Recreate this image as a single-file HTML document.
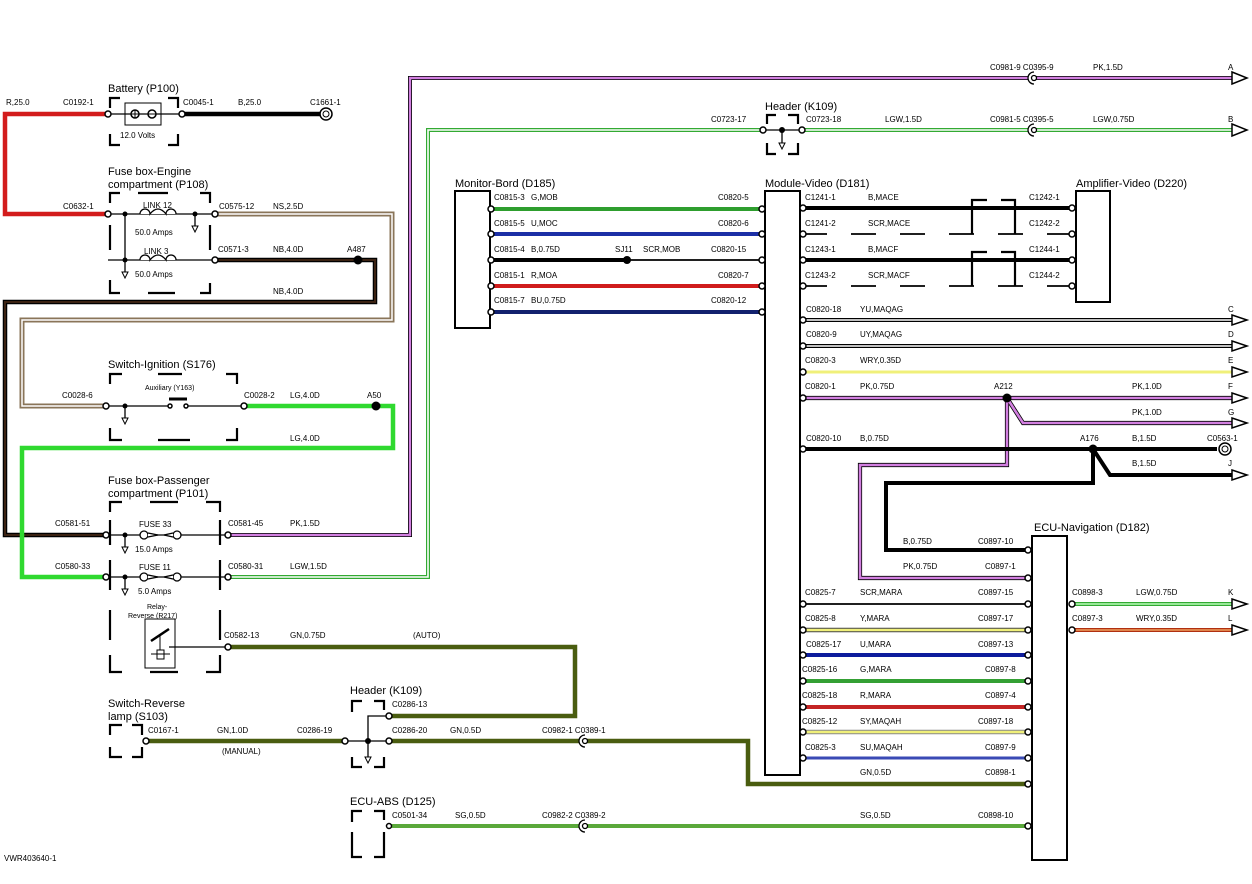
<!DOCTYPE html>
<html><head><meta charset="utf-8"><style>
html,body{margin:0;padding:0;background:#fff}
svg{display:block}
text{font-family:"Liberation Sans",sans-serif;font-size:8px;fill:#000}
.h{font-size:11px}
.br{fill:none;stroke:#000;stroke-width:2.2}
.c{fill:#fff;stroke:#000;stroke-width:1.5}
.ar{fill:#fff;stroke:#000;stroke-width:1.5}
</style></head><body>
<svg width="1252" height="884" viewBox="0 0 1252 884" xmlns="http://www.w3.org/2000/svg">
<polyline points="228,535 410,535 410,78 1235,78" fill="none" stroke="#000" stroke-width="4"/>
<polyline points="228,535 410,535 410,78 1235,78" fill="none" stroke="#d27fe0" stroke-width="2.4"/>
<polyline points="228,577 428,577 428,130 765,130" fill="none" stroke="#3a3" stroke-width="4"/>
<polyline points="228,577 428,577 428,130 765,130" fill="none" stroke="#fff" stroke-width="1.6"/>
<line x1="800" y1="130" x2="1235" y2="130" stroke="#3a3" stroke-width="4"/>
<line x1="800" y1="130" x2="1235" y2="130" stroke="#fff" stroke-width="1.6"/>
<polyline points="106,114 5,114 5,214 106,214" fill="none" stroke="#d31c1c" stroke-width="4.5"/>
<line x1="182" y1="114" x2="320" y2="114" stroke="#000" stroke-width="4.5"/>
<polyline points="215,214 392,214 392,320 22,320 22,406 106,406" fill="none" stroke="#8a7559" stroke-width="5"/>
<polyline points="215,214 392,214 392,320 22,320 22,406 106,406" fill="none" stroke="#fff" stroke-width="1.5"/>
<polyline points="215,260 375,260 375,302 5,302 5,535 106,535" fill="none" stroke="#000" stroke-width="4.5"/>
<polyline points="215,260 375,260 375,302 5,302 5,535 106,535" fill="none" stroke="#3b2212" stroke-width="2"/>
<polyline points="245,406 393,406 393,448 22,448 22,577 106,577" fill="none" stroke="#2fd92f" stroke-width="4.5"/>
<polyline points="228,647 575,647 575,716 390,716" fill="none" stroke="#4a5d10" stroke-width="4.5"/>
<line x1="148" y1="741" x2="344" y2="741" stroke="#4a5d10" stroke-width="4.5"/>
<polyline points="390,741 748,741 748,784 1030,784" fill="none" stroke="#4a5d10" stroke-width="4.5"/>
<line x1="390" y1="826" x2="1030" y2="826" stroke="#5aa83a" stroke-width="4"/>
<line x1="490" y1="209" x2="762" y2="209" stroke="#2e9e2e" stroke-width="4"/>
<line x1="490" y1="234" x2="762" y2="234" stroke="#1c2fa6" stroke-width="4"/>
<line x1="490" y1="260" x2="627" y2="260" stroke="#000" stroke-width="4"/>
<line x1="627" y1="260" x2="762" y2="260" stroke="#000" stroke-width="1.8"/>
<line x1="490" y1="286" x2="762" y2="286" stroke="#d01c1c" stroke-width="4"/>
<line x1="490" y1="312" x2="762" y2="312" stroke="#12216e" stroke-width="4"/>
<circle cx="627" cy="260" r="4" fill="#000"/>
<line x1="802" y1="208" x2="1072" y2="208" stroke="#000" stroke-width="4"/>
<line x1="802" y1="260" x2="1072" y2="260" stroke="#000" stroke-width="4"/>
<line x1="802" y1="234" x2="1072" y2="234" stroke="#000" stroke-width="1.8" stroke-dasharray="25,24"/>
<line x1="802" y1="286" x2="1072" y2="286" stroke="#000" stroke-width="1.8" stroke-dasharray="25,24"/>
<path d="M972,234 V200 H987 M1001,200 H1015 V234 M972,286 V252 H987 M1001,252 H1015 V286" class="br" stroke-width="1.8"/>
<line x1="802" y1="320" x2="1235" y2="320" stroke="#000" stroke-width="4"/>
<line x1="802" y1="320" x2="1235" y2="320" stroke="#fff" stroke-width="1.5"/>
<line x1="802" y1="346" x2="1235" y2="346" stroke="#000" stroke-width="4"/>
<line x1="802" y1="346" x2="1235" y2="346" stroke="#fff" stroke-width="1.5"/>
<line x1="802" y1="372" x2="1235" y2="372" stroke="#f0f07a" stroke-width="3"/>
<g fill="none" stroke="#000" stroke-width="4.2">
<polyline points="802,398 1235,398"/>
<polyline points="1007,398 1023,423 1235,423"/>
<polyline points="1007,398 1007,465 860,465 860,578 1030,578"/>
</g>
<g fill="none" stroke="#d27fe0" stroke-width="2.6">
<polyline points="802,398 1235,398"/>
<polyline points="1007,398 1023,423 1235,423"/>
<polyline points="1007,398 1007,465 860,465 860,578 1030,578"/>
</g>
<circle cx="1007" cy="398" r="4.5" fill="#000"/>
<g fill="none" stroke="#000" stroke-width="4">
<polyline points="802,449 1217,449"/>
<polyline points="1093,449 1110,475 1235,475"/>
<polyline points="1093,449 1093,483 886,483 886,550 1030,550"/>
</g>
<circle cx="1093" cy="449" r="4.5" fill="#000"/>
<line x1="802" y1="604" x2="1030" y2="604" stroke="#000" stroke-width="1.8"/>
<line x1="802" y1="630" x2="1030" y2="630" stroke="#444" stroke-width="4.5"/>
<line x1="802" y1="630" x2="1030" y2="630" stroke="#f0f07a" stroke-width="2.6"/>
<line x1="802" y1="655" x2="1030" y2="655" stroke="#0d1c9c" stroke-width="4"/>
<line x1="802" y1="681" x2="1030" y2="681" stroke="#34a034" stroke-width="4"/>
<line x1="802" y1="707" x2="1030" y2="707" stroke="#c42424" stroke-width="4"/>
<line x1="802" y1="732" x2="1030" y2="732" stroke="#888" stroke-width="4.5"/>
<line x1="802" y1="732" x2="1030" y2="732" stroke="#f0f07a" stroke-width="2.6"/>
<line x1="802" y1="758" x2="1030" y2="758" stroke="#3a4ab5" stroke-width="3"/>
<line x1="1072" y1="604" x2="1235" y2="604" stroke="#3a3" stroke-width="4"/>
<line x1="1072" y1="604" x2="1235" y2="604" stroke="#a8f0a8" stroke-width="1.8"/>
<line x1="1072" y1="630" x2="1235" y2="630" stroke="#b03010" stroke-width="4"/>
<line x1="1072" y1="630" x2="1235" y2="630" stroke="#f0a060" stroke-width="1.5"/>

<text class="h" x="108" y="92">Battery (P100)</text>
<path d="M110,108 V98 H120 M168,98 H178 V108 M110,134 V145 H120 M168,145 H178 V134" class="br"/>
<rect x="125" y="103" width="36" height="22" fill="#fff" stroke="#000"/>
<line x1="108" y1="114" x2="180" y2="114" stroke="#000" stroke-width="1.3"/>
<circle cx="135" cy="114" r="4" class="c"/><path d="M131,114h8M135,110v8" stroke="#000"/>
<circle cx="152" cy="114" r="4" class="c"/><path d="M148,114h8" stroke="#000"/>
<text x="120" y="138">12.0 Volts</text>
<text class="h" x="108" y="175">Fuse box-Engine</text>
<text class="h" x="108" y="188">compartment (P108)</text>
<path d="M110,203 V193 H120 M138,193 H168 M200,193 H210 V203 M110,225 V250 M110,280 V293 H120 M148,293 H175 M200,293 H210 V283 M210,225 V250" class="br"/>
<line x1="108" y1="214" x2="213" y2="214" stroke="#000" stroke-width="1.3"/>
<line x1="108" y1="260" x2="213" y2="260" stroke="#000" stroke-width="1.3"/>
<line x1="125" y1="214" x2="125" y2="272" stroke="#000" stroke-width="1.3"/>
<line x1="195" y1="214" x2="195" y2="226" stroke="#000" stroke-width="1.3"/>
<circle cx="125" cy="214" r="2.5"/><circle cx="195" cy="214" r="2.5"/><circle cx="125" cy="260" r="2.5"/>
<path d="M192,226 l3,6 3,-6z M122,272 l3,6 3,-6z" fill="#fff" stroke="#000"/>
<path d="M140,214 a5,5 0 1,1 10,0 q8,-10 16,0 a5,5 0 1,1 10,0" fill="#fff" stroke="#000" stroke-width="1.3"/>
<path d="M140,260 a5,5 0 1,1 10,0 q8,-10 16,0 a5,5 0 1,1 10,0" fill="#fff" stroke="#000" stroke-width="1.3"/>
<text x="143" y="208">LINK 12</text><text x="135" y="235">50.0 Amps</text>
<text x="144" y="254">LINK 3</text><text x="135" y="277">50.0 Amps</text>
<circle cx="358" cy="260" r="4.5" fill="#000"/>
<text class="h" x="108" y="368">Switch-Ignition (S176)</text>
<path d="M110,384 V374 H122 M158,374 H182 M226,374 H237 V384 M110,428 V440 H122 M158,440 H190 M226,440 H237 V428" class="br"/>
<line x1="108" y1="406" x2="170" y2="406" stroke="#000" stroke-width="1.3"/>
<line x1="187" y1="406" x2="243" y2="406" stroke="#000" stroke-width="1.3"/>
<line x1="125" y1="406" x2="125" y2="418" stroke="#000" stroke-width="1.3"/>
<circle cx="125" cy="406" r="2.5"/><path d="M122,418 l3,6 3,-6z" fill="#fff" stroke="#000"/>
<circle cx="170" cy="406" r="2" class="c" stroke-width="1"/><circle cx="186" cy="406" r="2" class="c" stroke-width="1"/>
<line x1="169" y1="399" x2="187" y2="399" stroke="#000" stroke-width="3"/>
<text x="145" y="390" style="font-size:7px">Auxiliary (Y163)</text>
<circle cx="376" cy="406" r="4.5" fill="#000"/>
<text class="h" x="108" y="484">Fuse box-Passenger</text>
<text class="h" x="108" y="497">compartment (P101)</text>
<path d="M110,512 V502 H122 M150,502 H178 M206,502 H220 V512 M110,520 V545 M220,520 V545 M110,560 V590 M220,560 V590 M110,610 V640 M220,610 V640 M110,655 V672 H122 M150,672 H178 M206,672 H220 V655" class="br"/>
<line x1="108" y1="535" x2="227" y2="535" stroke="#000" stroke-width="1.3"/>
<line x1="108" y1="577" x2="227" y2="577" stroke="#000" stroke-width="1.3"/>
<line x1="125" y1="535" x2="125" y2="547" stroke="#000" stroke-width="1.3"/>
<line x1="125" y1="577" x2="125" y2="589" stroke="#000" stroke-width="1.3"/>
<circle cx="125" cy="535" r="2.5"/><circle cx="125" cy="577" r="2.5"/>
<path d="M122,547 l3,6 3,-6z M122,589 l3,6 3,-6z" fill="#fff" stroke="#000"/>
<g fill="#fff" stroke="#000" stroke-width="1.3">
<circle cx="144" cy="535" r="4"/><circle cx="177" cy="535" r="4"/><path d="M148,533 L158,535 148,537 M173,533 L164,535 173,537"/>
<circle cx="144" cy="577" r="4"/><circle cx="177" cy="577" r="4"/><path d="M148,575 L158,577 148,579 M173,575 L164,577 173,579"/>
</g>
<text x="139" y="527">FUSE 33</text><text x="135" y="552">15.0 Amps</text>
<text x="139" y="570">FUSE 11</text><text x="138" y="594">5.0 Amps</text>
<text x="147" y="609" style="font-size:7px">Relay-</text><text x="128" y="618" style="font-size:7px">Reverse (R217)</text>
<rect x="145" y="619" width="30" height="49" fill="#fff" stroke="#000"/>
<line x1="151" y1="641" x2="169" y2="629" stroke="#000" stroke-width="2.5"/>
<line x1="160" y1="635" x2="160" y2="650" stroke="#000"/>
<rect x="157" y="650" width="7" height="9" fill="#fff" stroke="#000"/>
<line x1="169" y1="647" x2="227" y2="647" stroke="#000" stroke-width="1.3"/>
<line x1="151" y1="654" x2="170" y2="654" stroke="#000"/>
<text class="h" x="108" y="707">Switch-Reverse</text>
<text class="h" x="108" y="720">lamp (S103)</text>
<path d="M110,735 V725 H122 M132,725 H142 V735 M110,747 V757 H122 M132,757 H142 V747" class="br"/>
<text class="h" x="350" y="694">Header (K109)</text>
<path d="M352,712 V701 H362 M374,701 H384 V710 M352,757 V767 H362 M374,767 H384 V757" class="br"/>
<polyline points="386,716 368,716 368,757" fill="none" stroke="#000" stroke-width="1.3"/>
<line x1="346" y1="741" x2="388" y2="741" stroke="#000" stroke-width="1.3"/>
<circle cx="368" cy="741" r="3" fill="#000"/><path d="M365,757 l3,6 3,-6z" fill="#fff" stroke="#000"/>
<text class="h" x="350" y="805">ECU-ABS (D125)</text>
<path d="M352,822 V811 H362 M374,811 H384 V820 M352,832 V857 H362 M374,857 H384 V832" class="br"/>
<text class="h" x="765" y="110">Header (K109)</text>
<path d="M767,124 V115 H776 M788,115 H798 V124 M767,143 V154 H776 M788,154 H798 V143" class="br"/>
<line x1="763" y1="130" x2="802" y2="130" stroke="#000" stroke-width="1.3"/>
<line x1="782" y1="130" x2="782" y2="143" stroke="#000" stroke-width="1.3"/>
<circle cx="782" cy="130" r="3" fill="#000"/><path d="M779,143 l3,6 3,-6z" fill="#fff" stroke="#000"/>
<text class="h" x="455" y="187">Monitor-Bord (D185)</text>
<rect x="455" y="191" width="35" height="137" fill="#fff" stroke="#000" stroke-width="2"/>
<text class="h" x="765" y="187">Module-Video (D181)</text>
<rect x="765" y="191" width="35" height="584" fill="#fff" stroke="#000" stroke-width="2"/>
<text class="h" x="1076" y="187">Amplifier-Video (D220)</text>
<rect x="1076" y="191" width="34" height="111" fill="#fff" stroke="#000" stroke-width="2"/>
<text class="h" x="1034" y="531">ECU-Navigation (D182)</text>
<rect x="1032" y="536" width="35" height="324" fill="#fff" stroke="#000" stroke-width="2"/>

<g class="c">
<circle cx="108" cy="114" r="3" class="c"/><circle cx="182" cy="114" r="3" class="c"/>
<circle cx="108" cy="214" r="3" class="c"/><circle cx="215" cy="214" r="3" class="c"/><circle cx="215" cy="260" r="3" class="c"/>
<circle cx="106" cy="406" r="3" class="c"/><circle cx="244" cy="406" r="3" class="c"/>
<circle cx="106" cy="535" r="3" class="c"/><circle cx="228" cy="535" r="3" class="c"/>
<circle cx="106" cy="577" r="3" class="c"/><circle cx="228" cy="577" r="3" class="c"/>
<circle cx="228" cy="647" r="3" class="c"/>
<circle cx="146" cy="741" r="3" class="c"/><circle cx="345" cy="741" r="3" class="c"/><circle cx="389" cy="741" r="3" class="c"/><circle cx="389" cy="716" r="3" class="c"/><circle cx="389" cy="826" r="2.5" class="c"/>
<circle cx="763" cy="130" r="3" class="c"/><circle cx="802" cy="130" r="3" class="c"/>
<circle cx="491" cy="209" r="3" class="c"/><circle cx="491" cy="234" r="3" class="c"/><circle cx="491" cy="260" r="3" class="c"/><circle cx="491" cy="286" r="3" class="c"/><circle cx="491" cy="312" r="3" class="c"/>
<circle cx="762" cy="209" r="3" class="c"/><circle cx="762" cy="234" r="3" class="c"/><circle cx="762" cy="260" r="3" class="c"/><circle cx="762" cy="286" r="3" class="c"/><circle cx="762" cy="312" r="3" class="c"/>
<circle cx="803" cy="208" r="3" class="c"/><circle cx="803" cy="234" r="3" class="c"/><circle cx="803" cy="260" r="3" class="c"/><circle cx="803" cy="286" r="3" class="c"/>
<circle cx="1072" cy="208" r="3" class="c"/><circle cx="1072" cy="234" r="3" class="c"/><circle cx="1072" cy="260" r="3" class="c"/><circle cx="1072" cy="286" r="3" class="c"/>
<circle cx="803" cy="320" r="3" class="c"/><circle cx="803" cy="346" r="3" class="c"/><circle cx="803" cy="372" r="3" class="c"/><circle cx="803" cy="398" r="3" class="c"/><circle cx="803" cy="449" r="3" class="c"/>
<circle cx="803" cy="604" r="3" class="c"/><circle cx="803" cy="630" r="3" class="c"/><circle cx="803" cy="655" r="3" class="c"/><circle cx="803" cy="681" r="3" class="c"/><circle cx="803" cy="707" r="3" class="c"/><circle cx="803" cy="732" r="3" class="c"/><circle cx="803" cy="758" r="3" class="c"/>
<circle cx="1028" cy="550" r="3" class="c"/><circle cx="1028" cy="578" r="3" class="c"/><circle cx="1028" cy="604" r="3" class="c"/><circle cx="1028" cy="630" r="3" class="c"/><circle cx="1028" cy="655" r="3" class="c"/><circle cx="1028" cy="681" r="3" class="c"/><circle cx="1028" cy="707" r="3" class="c"/><circle cx="1028" cy="732" r="3" class="c"/><circle cx="1028" cy="758" r="3" class="c"/><circle cx="1028" cy="784" r="3" class="c"/><circle cx="1028" cy="826" r="3" class="c"/>
<circle cx="1072" cy="604" r="3" class="c"/><circle cx="1072" cy="630" r="3" class="c"/>
</g>
<circle cx="326" cy="114" r="6" class="c" stroke-width="2"/><circle cx="326" cy="114" r="3" fill="none" stroke="#000"/>
<circle cx="1225" cy="449" r="6" class="c" stroke-width="2"/><circle cx="1225" cy="449" r="3" fill="none" stroke="#000"/>
<g fill="#fff" stroke="#000" stroke-width="1.3">
<path d="M1034,72 a6,6 0 0,0 0,12"/><circle cx="1034" cy="78" r="2.5"/>
<path d="M1034,124 a6,6 0 0,0 0,12"/><circle cx="1034" cy="130" r="2.5"/>
<path d="M585,735 a6,6 0 0,0 0,12"/><circle cx="585" cy="741" r="2.5"/>
<path d="M585,820 a6,6 0 0,0 0,12"/><circle cx="585" cy="826" r="2.5"/>
</g>
<g class="ar">
<polygon points="1232,72 1247,78 1232,84" class="ar"/><polygon points="1232,124 1247,130 1232,136" class="ar"/>
<polygon points="1232,315 1247,320 1232,325" class="ar"/><polygon points="1232,341 1247,346 1232,351" class="ar"/>
<polygon points="1232,367 1247,372 1232,377" class="ar"/><polygon points="1232,393 1247,398 1232,403" class="ar"/>
<polygon points="1232,418 1247,423 1232,428" class="ar"/><polygon points="1232,470 1247,475 1232,480" class="ar"/>
<polygon points="1232,599 1247,604 1232,609" class="ar"/><polygon points="1232,625 1247,630 1232,635" class="ar"/>
</g>

<text x="6" y="105">R,25.0</text><text x="63" y="105">C0192-1</text>
<text x="183" y="105">C0045-1</text><text x="238" y="105">B,25.0</text><text x="310" y="105">C1661-1</text>
<text x="63" y="209">C0632-1</text><text x="219" y="209">C0575-12</text><text x="273" y="209">NS,2.5D</text>
<text x="218" y="252">C0571-3</text><text x="273" y="252">NB,4.0D</text><text x="347" y="252">A487</text>
<text x="273" y="294">NB,4.0D</text>
<text x="62" y="398">C0028-6</text><text x="244" y="398">C0028-2</text><text x="290" y="398">LG,4.0D</text><text x="367" y="398">A50</text>
<text x="290" y="441">LG,4.0D</text>
<text x="55" y="526">C0581-51</text><text x="228" y="526">C0581-45</text><text x="290" y="526">PK,1.5D</text>
<text x="55" y="569">C0580-33</text><text x="228" y="569">C0580-31</text><text x="290" y="569">LGW,1.5D</text>
<text x="224" y="638">C0582-13</text><text x="290" y="638">GN,0.75D</text><text x="413" y="638">(AUTO)</text>
<text x="148" y="733">C0167-1</text><text x="217" y="733">GN,1.0D</text><text x="297" y="733">C0286-19</text><text x="222" y="754">(MANUAL)</text>
<text x="392" y="707">C0286-13</text><text x="392" y="733">C0286-20</text><text x="450" y="733">GN,0.5D</text><text x="542" y="733">C0982-1 C0389-1</text>
<text x="392" y="818">C0501-34</text><text x="455" y="818">SG,0.5D</text><text x="542" y="818">C0982-2 C0389-2</text>
<text x="4" y="861">VWR403640-1</text>
<text x="990" y="70">C0981-9 C0395-9</text><text x="1093" y="70">PK,1.5D</text><text x="1228" y="70">A</text>
<text x="711" y="122">C0723-17</text><text x="806" y="122">C0723-18</text><text x="885" y="122">LGW,1.5D</text>
<text x="990" y="122">C0981-5 C0395-5</text><text x="1093" y="122">LGW,0.75D</text><text x="1228" y="122">B</text>
<text x="494" y="200">C0815-3</text><text x="531" y="200">G,MOB</text><text x="718" y="200">C0820-5</text>
<text x="494" y="226">C0815-5</text><text x="531" y="226">U,MOC</text><text x="718" y="226">C0820-6</text>
<text x="494" y="252">C0815-4</text><text x="531" y="252">B,0.75D</text><text x="615" y="252">SJ11</text><text x="643" y="252">SCR,MOB</text><text x="711" y="252">C0820-15</text>
<text x="494" y="278">C0815-1</text><text x="531" y="278">R,MOA</text><text x="718" y="278">C0820-7</text>
<text x="494" y="303">C0815-7</text><text x="531" y="303">BU,0.75D</text><text x="711" y="303">C0820-12</text>
<text x="805" y="200">C1241-1</text><text x="868" y="200">B,MACE</text><text x="1029" y="200">C1242-1</text>
<text x="805" y="226">C1241-2</text><text x="868" y="226">SCR,MACE</text><text x="1029" y="226">C1242-2</text>
<text x="805" y="252">C1243-1</text><text x="868" y="252">B,MACF</text><text x="1029" y="252">C1244-1</text>
<text x="805" y="278">C1243-2</text><text x="868" y="278">SCR,MACF</text><text x="1029" y="278">C1244-2</text>
<text x="806" y="312">C0820-18</text><text x="860" y="312">YU,MAQAG</text><text x="1228" y="312">C</text>
<text x="806" y="337">C0820-9</text><text x="860" y="337">UY,MAQAG</text><text x="1228" y="337">D</text>
<text x="805" y="363">C0820-3</text><text x="860" y="363">WRY,0.35D</text><text x="1228" y="363">E</text>
<text x="805" y="389">C0820-1</text><text x="860" y="389">PK,0.75D</text><text x="994" y="389">A212</text><text x="1132" y="389">PK,1.0D</text><text x="1228" y="389">F</text>
<text x="1132" y="415">PK,1.0D</text><text x="1228" y="415">G</text>
<text x="806" y="441">C0820-10</text><text x="860" y="441">B,0.75D</text><text x="1080" y="441">A176</text><text x="1132" y="441">B,1.5D</text><text x="1207" y="441">C0563-1</text>
<text x="1132" y="466">B,1.5D</text><text x="1228" y="466">J</text>
<text x="903" y="544">B,0.75D</text><text x="978" y="544">C0897-10</text>
<text x="903" y="569">PK,0.75D</text><text x="985" y="569">C0897-1</text>
<text x="805" y="595">C0825-7</text><text x="860" y="595">SCR,MARA</text><text x="978" y="595">C0897-15</text>
<text x="805" y="621">C0825-8</text><text x="860" y="621">Y,MARA</text><text x="978" y="621">C0897-17</text>
<text x="806" y="647">C0825-17</text><text x="860" y="647">U,MARA</text><text x="978" y="647">C0897-13</text>
<text x="802" y="672">C0825-16</text><text x="860" y="672">G,MARA</text><text x="985" y="672">C0897-8</text>
<text x="802" y="698">C0825-18</text><text x="860" y="698">R,MARA</text><text x="985" y="698">C0897-4</text>
<text x="802" y="724">C0825-12</text><text x="860" y="724">SY,MAQAH</text><text x="978" y="724">C0897-18</text>
<text x="805" y="750">C0825-3</text><text x="860" y="750">SU,MAQAH</text><text x="985" y="750">C0897-9</text>
<text x="860" y="775">GN,0.5D</text><text x="985" y="775">C0898-1</text>
<text x="860" y="818">SG,0.5D</text><text x="978" y="818">C0898-10</text>
<text x="1072" y="595">C0898-3</text><text x="1136" y="595">LGW,0.75D</text><text x="1228" y="595">K</text>
<text x="1072" y="621">C0897-3</text><text x="1136" y="621">WRY,0.35D</text><text x="1228" y="621">L</text>
</svg>
</body></html>
